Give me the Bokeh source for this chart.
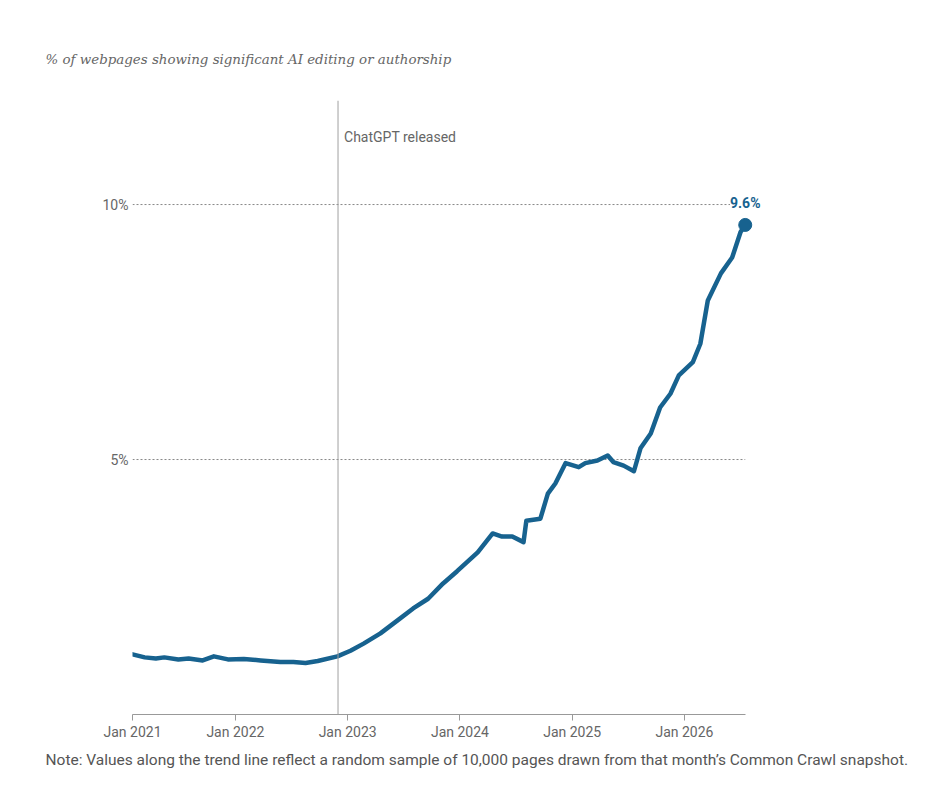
from bokeh.plotting import figure
from bokeh.models import Range1d, FixedTicker, Span, Label, Title
from bokeh.embed import file_html
from bokeh.resources import INLINE

# months since Dec 2020 (1 = first snapshot, shown at the "Jan 2021" tick)
months = [1.0, 2.3, 3.5, 4.4, 5.9, 7.0, 8.5, 9.7, 11.2, 12.9, 14.7, 16.8, 18.2, 19.5,
          20.8, 22.9, 24.3, 25.7, 27.5, 29.3, 31.0, 32.6, 34.2, 35.7, 37.9, 39.5,
          40.5, 41.6, 42.8, 43.1, 44.6, 45.4, 46.2, 47.3, 48.7, 49.4, 50.7, 51.8,
          52.4, 53.5, 54.6, 55.3, 56.4, 57.4, 58.5, 59.4, 60.9, 61.7, 62.5, 63.9,
          65.1, 66.0, 66.5]
share_pct = [1.18, 1.12, 1.10, 1.12, 1.08, 1.10, 1.06, 1.14, 1.08, 1.09, 1.06, 1.03,
             1.03, 1.01, 1.05, 1.14, 1.25, 1.39, 1.59, 1.84, 2.08, 2.27, 2.57, 2.81,
             3.18, 3.55, 3.49, 3.49, 3.38, 3.80, 3.84, 4.33, 4.53, 4.93, 4.85, 4.93,
             4.98, 5.08, 4.95, 4.88, 4.77, 5.22, 5.51, 6.02, 6.29, 6.65, 6.91, 7.27,
             8.12, 8.65, 8.96, 9.46, 9.60]

x_tick_pos = [1, 12, 24, 36, 48, 60]
x_tick_labels = ["Jan 2021", "Jan 2022", "Jan 2023", "Jan 2024", "Jan 2025", "Jan 2026"]
y_tick_pos = [5, 10]
y_tick_labels = ["5%", "10%"]

chatgpt_month = 22.97
chatgpt_text = "ChatGPT released"
title_text = "% of webpages showing significant AI editing or authorship"
note_text = ("Note: Values along the trend line reflect a random sample of 10,000 pages "
             "drawn from that month\u2019s Common Crawl snapshot.")

LINE = "#17628f"
GRAY = "#666666"
FONT = "Roboto"

p = figure(width=926, height=790, output_backend="svg", toolbar_location=None,
           x_range=Range1d(1, 69.2), y_range=Range1d(0, 12.04),
           min_border_left=132, min_border_right=156, min_border_top=100,
           min_border_bottom=76)
p.outline_line_color = None
p.background_fill_color = "white"
p.border_fill_color = "white"

# axes
xa = p.xaxis[0]
xa.ticker = FixedTicker(ticks=x_tick_pos)
xa.bounds = (months[0], months[-1])
xa.major_label_overrides = {t: l for t, l in zip(x_tick_pos, x_tick_labels)}
xa.axis_line_color = "#999999"
xa.major_tick_line_color = "#999999"
xa.major_tick_out = 6
xa.major_tick_in = 0
xa.minor_tick_line_color = None
xa.major_label_standoff = 3
xa.major_label_text_font = FONT
xa.major_label_text_font_size = "14px"
xa.major_label_text_color = GRAY

ya = p.yaxis[0]
ya.ticker = FixedTicker(ticks=y_tick_pos)
ya.major_label_overrides = {t: l for t, l in zip(y_tick_pos, y_tick_labels)}
ya.axis_line_color = None
ya.major_tick_line_color = None
ya.minor_tick_line_color = None
ya.major_tick_out = 0
ya.major_label_standoff = 4
ya.major_label_text_font = FONT
ya.major_label_text_font_size = "14px"
ya.major_label_text_color = GRAY

p.xgrid.grid_line_color = None
p.ygrid.grid_line_color = None
# dotted reference lines at the y ticks, spanning the data's time extent
p.segment(x0=[months[0]] * len(y_tick_pos), x1=[months[-1]] * len(y_tick_pos),
          y0=y_tick_pos, y1=y_tick_pos, line_color="#888888", line_dash="2 2",
          line_width=1)

# ChatGPT marker
p.add_layout(Span(location=chatgpt_month, dimension="height", line_color="#a0a0a0",
                  line_width=1))
p.add_layout(Label(x=chatgpt_month, y=11.33, x_offset=6, text=chatgpt_text,
                   text_font=FONT, text_font_size="14px", text_color=GRAY,
                   text_baseline="middle"))

# trend line
p.line(months, share_pct, line_color=LINE, line_width=4.5, line_join="round",
       line_cap="round")
p.scatter([months[-1]], [share_pct[-1]], size=13, fill_color=LINE, line_color=LINE)
p.add_layout(Label(x=months[-1], y=share_pct[-1], y_offset=14,
                   text=f"{share_pct[-1]:.1f}%", text_font=FONT,
                   text_font_size="14px", text_font_style="bold", text_color=LINE,
                   text_align="center", text_baseline="bottom",
                   background_fill_color="white"))

# title and note
p.add_layout(Title(text=title_text, align="left", offset=-87, standoff=67,
                   text_font="DejaVu Serif", text_font_style="italic",
                   text_font_size="13.4px", text_color=GRAY), "above")
p.add_layout(Title(text=note_text, align="left", offset=-87, standoff=13,
                   text_font=FONT, text_font_size="15.5px", text_color="#555555",
                   text_font_style="normal"), "below")

open("out.html", "w").write(file_html(p, INLINE))
